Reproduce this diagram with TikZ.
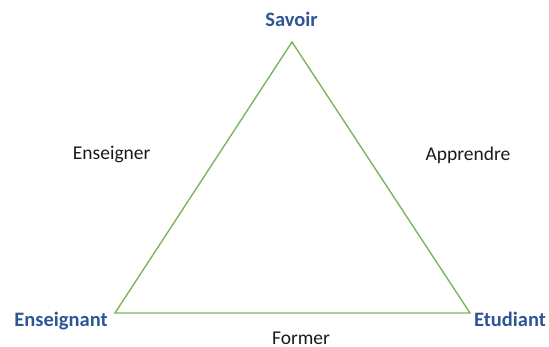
\documentclass[tikz,border=0pt]{standalone}
\usepackage{fontspec}
\setmainfont{Carlito}
\definecolor{vblue}{HTML}{2F5597}
\definecolor{tgreen}{HTML}{7DB55A}
\definecolor{txt}{HTML}{1A1A1A}
\begin{document}
\begin{tikzpicture}[x=1pt,y=1pt,
  vertexlabel/.style={anchor=base,inner sep=0pt,text=vblue,font=\fontsize{20.5}{24}\selectfont\bfseries},
  edgelabel/.style={anchor=base,inner sep=0pt,text=txt,font=\fontsize{19.5}{23}\selectfont},
  side/.style={draw=tgreen,line width=1.4pt,line join=miter}]
\useasboundingbox (0,0) rectangle (549,347);
\coordinate (top) at (292,305);
\coordinate (bl) at (115,34);
\coordinate (br) at (470,34);
\draw[side] (top) -- (bl) -- (br) -- cycle;
\node[vertexlabel] (savoir) at (291.5,320) {Savoir};
\node[vertexlabel] (enseignant) at (61,20.5) {Enseignant};
\node[vertexlabel] (etudiant) at (510,20.5) {Etudiant};
\node[edgelabel] (enseigner) at (111.7,187) {Enseigner};
\node[edgelabel] (apprendre) at (468,186.5) {Apprendre};
\node[edgelabel] (former) at (301,2.5) {Former};
\end{tikzpicture}
\end{document}
